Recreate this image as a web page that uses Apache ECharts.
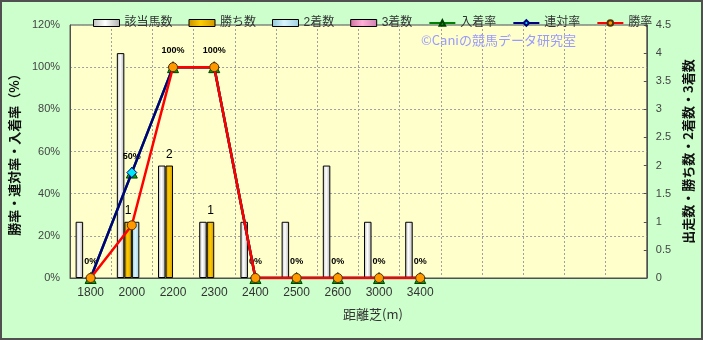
<!DOCTYPE html>
<html><head><meta charset="utf-8">
<script src="https://cdn.jsdelivr.net/npm/echarts@6/dist/echarts.min.js"></script>
<style>html,body{margin:0;padding:0;background:#CCFFCC}#c{width:703px;height:340px}</style>
</head><body><div id="c"></div>
<script>
const distances = ['1800','2000','2200','2300','2400','2500','2600','3000','3400'];
const emptySlots = ['', '', '', '', ''];
const runners = [1,4,2,1,1,1,2,1,1];
const wins    = [0,1,2,1,0,0,0,0,0];
const seconds = [0,1,0,0,0,0,0,0,0];
const thirds  = [0,0,0,0,0,0,0,0,0];
const placeRate   = [0,50,100,100,0,0,0,0,0];
const rentaiRate  = [0,50,100,100,0,0,0,0,0];
const winRate     = [0,25,100,100,0,0,0,0,0];
const seriesNames = ['該当馬数','勝ち数','2着数','3着数','入着率','連対率','勝率'];

const FONT = '"Liberation Sans", Arial, "Noto Sans CJK JP", sans-serif';
const chart = echarts.init(document.getElementById('c'));
function hGrad(a,b,c){return new echarts.graphic.LinearGradient(0,0,1,0,[{offset:0,color:a},{offset:0.45,color:b},{offset:1,color:c}]);}
const cWhite = hGrad('#c0c0c0','#ffffff','#b0b0b0');
const cGold = hGrad('#c89000','#ffcc00','#d09800');
const cBlue = hGrad('#90c8d8','#d8f4ff','#a0d0e0');
const cPink = hGrad('#d070a0','#ffb0d8','#d080b0');
const hideZero = arr => arr.map(v => v === 0 ? null : v);

const barBase = {type:'bar', yAxisIndex:1, barGap:'0%', barWidth:7.5, z:2};
const option = {
  backgroundColor:'#CCFFCC',
  animation:false,
  textStyle:{fontFamily:FONT},
  grid:{left:67, right:54, top:25, bottom:62, show:true, backgroundColor:'#FFFFCC', borderColor:'#505050', borderWidth:1},
  legend:{
    left:88, top:12, itemWidth:26, itemHeight:7, itemGap:16,
    textStyle:{fontSize:12, color:'#333', fontFamily:FONT},
    data:[
      {name:seriesNames[0], icon:'rect', itemStyle:{borderColor:'#000',borderWidth:1}},
      {name:seriesNames[1], icon:'rect', itemStyle:{borderColor:'#000',borderWidth:1}},
      {name:seriesNames[2], icon:'rect', itemStyle:{borderColor:'#000',borderWidth:1}},
      {name:seriesNames[3], icon:'rect', itemStyle:{borderColor:'#000',borderWidth:1}},
      {name:seriesNames[4]},{name:seriesNames[5]},{name:seriesNames[6]}
    ]
  },
  graphic:[
    {type:'text', left:421, top:34, z:10, style:{text:'©Caniの競馬データ研究室', fill:'#9a9aff', font:'13px "Noto Sans CJK JP", sans-serif'}},
    {type:'text', left:343, top:308, style:{text:'距離芝(m)', fill:'#333', font:'13px "Noto Sans CJK JP", sans-serif'}},
    {type:'rect', shape:{x:1,y:1,width:701,height:338}, style:{fill:'none', stroke:'#505050', lineWidth:2}, z:100}
  ],
  xAxis:{
    type:'category', data:distances.concat(emptySlots), boundaryGap:true,
    axisLine:{lineStyle:{color:'#505050'}}, axisTick:{show:false},
    axisLabel:{color:'#333', fontSize:12, margin:9, interval:0},
    splitLine:{show:true, interval:0, lineStyle:{color:'#a0a0a0', type:[2,2]}}
  },
  yAxis:[
    {type:'value', min:0, max:120, interval:20, position:'left',
     name:'勝率・連対率・入着率（%）', nameLocation:'middle', nameRotate:90, nameGap:38,
     nameTextStyle:{fontSize:13, fontWeight:'bold', color:'#111', fontFamily:'"Noto Sans CJK JP", sans-serif'},
     axisLine:{show:true, lineStyle:{color:'#505050'}}, axisTick:{show:false},
     axisLabel:{formatter:'{value}%', color:'#444', fontSize:11, margin:10},
     splitLine:{show:true, lineStyle:{color:'#a0a0a0', type:[2,2]}}},
    {type:'value', min:0, max:4.5, interval:0.5, position:'right',
     name:'出走数・勝ち数・2着数・3着数', nameLocation:'middle', nameRotate:90, nameGap:27,
     nameTextStyle:{fontSize:13, fontWeight:'bold', color:'#111', fontFamily:'"Noto Sans CJK JP", sans-serif'},
     axisLine:{show:true, lineStyle:{color:'#505050'}}, axisTick:{show:true, inside:true, length:3, lineStyle:{color:'#505050'}},
     axisLabel:{color:'#444', fontSize:11, margin:9, showMaxLabel:true},
     splitLine:{show:false}}
  ],
  series:[
    Object.assign({}, barBase, {name:seriesNames[0], data:hideZero(runners), itemStyle:{color:cWhite, borderColor:'#000', borderWidth:1}}),
    Object.assign({}, barBase, {name:seriesNames[1], data:hideZero(wins), itemStyle:{color:cGold, borderColor:'#000', borderWidth:1},
      label:{show:true, position:'top', distance:5, color:'#000', fontSize:12, formatter:p=>p.value? String(p.value):''}}),
    Object.assign({}, barBase, {name:seriesNames[2], data:hideZero(seconds), itemStyle:{color:cBlue, borderColor:'#000', borderWidth:1}}),
    Object.assign({}, barBase, {name:seriesNames[3], data:hideZero(thirds), itemStyle:{color:cPink, borderColor:'#000', borderWidth:1}}),
    {name:seriesNames[4], type:'line', yAxisIndex:0, data:placeRate, z:4,
     symbol:'triangle', symbolSize:11, lineStyle:{color:'#008000', width:2.5},
     itemStyle:{color:'#00a000', borderColor:'#004000', borderWidth:1},
     label:{show:true, position:'top', distance:6, color:'#000', fontSize:9, fontWeight:'bold', formatter:'{c}%'}},
    {name:seriesNames[5], type:'line', yAxisIndex:0, data:rentaiRate, z:5,
     symbol:'diamond', symbolSize:10, lineStyle:{color:'#000080', width:2.5},
     itemStyle:{color:'#00e8f8', borderColor:'#000080', borderWidth:1}},
    {name:seriesNames[6], type:'line', yAxisIndex:0, data:winRate, z:6,
     symbol:'circle', symbolSize:9, lineStyle:{color:'#ff0000', width:2.5},
     itemStyle:{color:'#ff9900', borderColor:'#553300', borderWidth:1}}
  ]
};
chart.setOption(option);
</script></body></html>
